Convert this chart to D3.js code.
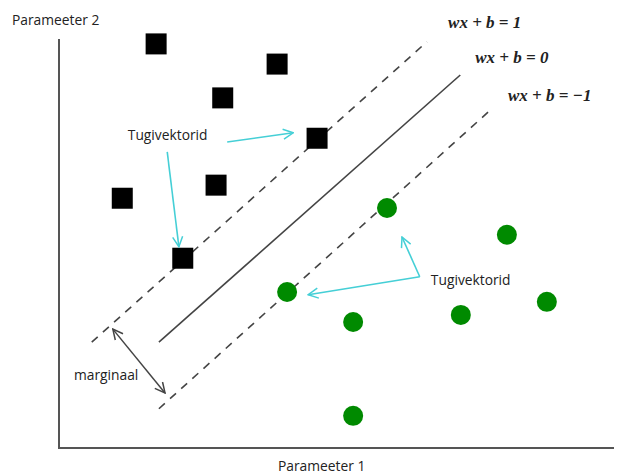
<!DOCTYPE html>
<html><head><meta charset="utf-8">
<script src="https://cdn.jsdelivr.net/npm/d3@7"></script>
<style>body{margin:0;background:#fff}svg{display:block}</style>
</head><body>
<script>
// ---- data (abstract units) ----
const classA = [[1.75,7.41],[3.93,7.04],[2.95,6.42],[4.65,5.68],[1.14,4.58],[2.83,4.82],[2.23,3.48]];
const classB = [[5.91,4.40],[8.07,3.91],[4.11,2.86],[5.30,2.31],[7.24,2.44],[8.79,2.68],[5.30,0.59]];
const hyperplanes = [
  {label:"wx + b = 1",  dashed:true,  p:[[0.59,1.94],[6.63,7.45]], lx:7.01, ly:7.70},
  {label:"wx + b = 0",  dashed:false, p:[[1.80,1.94],[7.23,6.84]], lx:7.50, ly:7.06},
  {label:"wx + b = \u22121", dashed:true, p:[[1.80,0.72],[7.82,6.24]], lx:8.09, ly:6.36}
];
const supportArrows = [
  [[3.03,5.61],[4.22,5.78]],
  [[1.95,5.43],[2.16,3.69]],
  [[6.50,3.14],[6.18,3.87]],
  [[6.50,3.14],[4.49,2.81]]
];
const marginArrow = [[0.97,2.18],[1.91,1.01]];
const labels = [
  {text:"Tugivektorid", x:1.24, y:5.65},
  {text:"Tugivektorid", x:6.70, y:2.99},
  {text:"marginaal", x:0.27, y:1.25}
];
const axisTitles = {x:"Parameeter 1", y:"Parameeter 2"};

const W=618,H=474;
const x=d3.scaleLinear().domain([0,10]).range([59,614]);
const y=d3.scaleLinear().domain([0,7.5]).range([448,39]);
const FS=13.8;

const svg=d3.select("body").append("svg").attr("width",W).attr("height",H);
const defs=svg.append("defs");
function marker(id,color){
  defs.append("marker").attr("id",id).attr("viewBox","0 0 12 12").attr("refX",11).attr("refY",6)
    .attr("markerWidth",12).attr("markerHeight",12).attr("markerUnits","userSpaceOnUse")
    .attr("orient","auto-start-reverse")
    .append("path").attr("d","M1,1 L11,6 L1,11").attr("fill","none").attr("stroke",color).attr("stroke-width",1.5);
}
marker("cy","#45cfd6");
marker("bk","#444");

// axes
svg.append("line").attr("x1",x(0)).attr("y1",y(7.5)).attr("x2",x(0)).attr("y2",y(0)).attr("stroke","#555").attr("stroke-width",2);
svg.append("line").attr("x1",x(0)-1).attr("y1",y(0)).attr("x2",x(10)).attr("y2",y(0)).attr("stroke","#555").attr("stroke-width",2);

svg.append("text").attr("x",12).attr("y",25).text(axisTitles.y)
  .attr("font-family","Open Sans").attr("font-size",FS).attr("fill","#222");
svg.append("text").attr("x",278).attr("y",471).text(axisTitles.x)
  .attr("font-family","Open Sans").attr("font-size",FS).attr("fill","#222");

const line=d3.line().x(d=>x(d[0])).y(d=>y(d[1]));
// hyperplanes
svg.selectAll(".hp").data(hyperplanes).join("path").attr("class","hp")
  .attr("d",d=>line(d.p)).attr("fill","none").attr("stroke","#444").attr("stroke-width",1.6)
  .attr("stroke-dasharray",d=>d.dashed?"8,7":null);
svg.selectAll(".hl").data(hyperplanes).join("text").attr("class","hl")
  .attr("x",d=>x(d.lx)).attr("y",d=>y(d.ly)).text(d=>d.label)
  .attr("font-family","Liberation Serif").attr("font-style","italic").attr("font-weight","bold")
  .attr("font-size",17).attr("fill","#222");

// squares
const s=21;
svg.selectAll(".sq").data(classA).join("rect").attr("class","sq")
  .attr("x",d=>x(d[0])-s/2).attr("y",d=>y(d[1])-s/2).attr("width",s).attr("height",s).attr("fill","#000");
// circles
svg.selectAll(".ci").data(classB).join("circle").attr("class","ci")
  .attr("cx",d=>x(d[0])).attr("cy",d=>y(d[1])).attr("r",10).attr("fill","#008a00");

// arrows
svg.selectAll(".sa").data(supportArrows).join("path").attr("class","sa")
  .attr("d",line).attr("fill","none").attr("stroke","#45cfd6").attr("stroke-width",1.6)
  .attr("marker-end","url(#cy)");
svg.append("path").attr("d",line(marginArrow)).attr("fill","none").attr("stroke","#444").attr("stroke-width",1.5)
  .attr("marker-end","url(#bk)").attr("marker-start","url(#bk)");

svg.selectAll(".lb").data(labels).join("text").attr("class","lb")
  .attr("x",d=>x(d.x)).attr("y",d=>y(d.y)).text(d=>d.text)
  .attr("font-family","Open Sans").attr("font-size",FS).attr("fill","#222");
</script>
</body></html>
